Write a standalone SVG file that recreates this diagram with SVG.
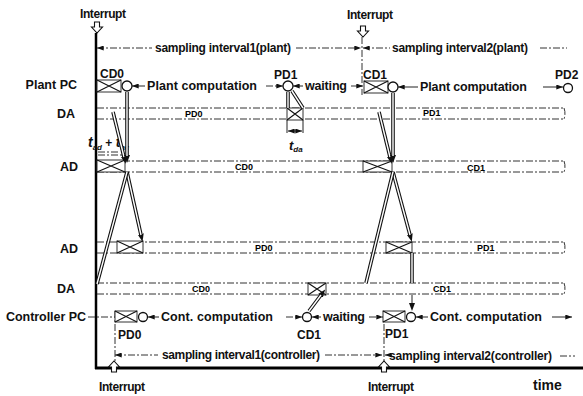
<svg xmlns="http://www.w3.org/2000/svg" width="583" height="396" viewBox="0 0 583 396">
<style>
text{font-family:"Liberation Sans",Arial,sans-serif;font-weight:bold;fill:#111}
.t{font-size:12px}
.lb{font-size:12.5px}
.sm{font-size:9px;fill:#000}
.ds{stroke:#333;stroke-width:1;stroke-dasharray:7 2 2 2;fill:none}
.dl{stroke:#222;stroke-width:1;fill:none}
.bx{fill:#fff;stroke:#333;stroke-width:1}
.cx{stroke:#111;stroke-width:1.1;fill:none}
.ci{fill:#fff;stroke:#111;stroke-width:1.3}
.ax{stroke:#000;fill:none}
.dbo{stroke:#111;stroke-width:3.6;fill:none}
.dbi{stroke:#fff;stroke-width:1.4;fill:none}
.hi{fill:#fff;stroke:#111;stroke-width:1.1}
</style>
<defs>
<marker id="a" viewBox="0 0 8 6" refX="8" refY="3" markerWidth="7" markerHeight="5" orient="auto-start-reverse" markerUnits="userSpaceOnUse"><path d="M0,0L8,3L0,6z" fill="#111"/></marker>
<marker id="b" viewBox="0 0 8 6" refX="1" refY="3" markerWidth="8" markerHeight="7" orient="auto" markerUnits="userSpaceOnUse"><path d="M0,0L8,3L0,6z" fill="#111"/></marker>
<path id="hd" d="M-2.5,0h5v5h3l-5.5,6l-5.5,-6h3z"/>
<path id="c1" d="M113,112L124,157"/>
<path id="c2" d="M127,92V156"/>
<path id="c3" d="M127,172L141,235"/>
<path id="c4" d="M127,172L97,284"/>
<path id="c5" d="M288,92V108"/>
<path id="c6" d="M292,91L303,108"/>
<path id="r1" d="M379,112L390,157"/>
<path id="r2" d="M393,93V156"/>
<path id="r3" d="M393,172L410,235"/>
<path id="r4" d="M393,172L366,283"/>
<path id="r5" d="M412,253V283"/>
<path id="k1" d="M309,311L321,295"/>
</defs>

<g id="axes">
<path class="ax" stroke-width="2.5" d="M96,33V369"/>
<path class="ax" stroke-width="3" d="M95,368H583"/>
<text x="533" y="390" font-size="14">time</text>
</g>

<g id="interrupts">
<text class="t" x="80" y="18" textLength="46">Interrupt</text>
<use href="#hd" class="hi" transform="translate(97,22)"/>
<text class="t" x="347" y="19" textLength="46">Interrupt</text>
<use href="#hd" class="hi" transform="translate(363,26)"/>
<path class="ds" d="M362,37V95"/>
<text class="t" x="99" y="391" textLength="46">Interrupt</text>
<use href="#hd" class="hi" transform="translate(114,372) scale(1,-1)"/>
<text class="t" x="368" y="391" textLength="46">Interrupt</text>
<use href="#hd" class="hi" transform="translate(384,372) scale(1,-1)"/>
<path class="ds" d="M115,311V362"/>
<path class="ds" d="M384,311V362"/>
</g>

<g id="row-labels">
<text class="lb" x="77" y="89" text-anchor="end">Plant PC</text>
<text class="lb" x="75" y="118" text-anchor="end">DA</text>
<text class="lb" x="78" y="171" text-anchor="end">AD</text>
<text class="lb" x="78" y="253" text-anchor="end">AD</text>
<text class="lb" x="75" y="293" text-anchor="end">DA</text>
<text class="lb" x="86" y="321" text-anchor="end" textLength="80">Controller PC</text>
<path class="ds" d="M88,317H115"/>
</g>

<g id="bands">
<path class="ds" d="M97,108H564M97,119H564M564,108q2,5.5 0,11"/>
<text class="sm" x="185" y="117">PD0</text>
<text class="sm" x="423" y="116">PD1</text>
<path class="ds" d="M97,161H564M97,172H564M564,161q2,5.5 0,11"/>
<text class="sm" x="235" y="170">CD0</text>
<text class="sm" x="467" y="171">CD1</text>
<path class="ds" d="M97,242H564M97,253H564M564,242q2,5.5 0,11"/>
<text class="sm" x="255" y="251">PD0</text>
<text class="sm" x="477" y="251">PD1</text>
<path class="ds" d="M97,283H564M97,294H564M564,283q2,5.5 0,11"/>
<text class="sm" x="192" y="292">CD0</text>
<text class="sm" x="433" y="292">CD1</text>
</g>

<g id="plant-cd0">
<text class="t" x="100" y="78">CD0</text>
<rect class="bx" x="97" y="80" width="24" height="12"/>
<path class="cx" d="M97,80L121,92M97,92L121,80"/>
<circle class="ci" cx="127" cy="86" r="5"/>
</g>
<g id="plant-pd1">
<text class="t" x="274" y="79">PD1</text>
<circle class="ci" cx="288" cy="86" r="5"/>
</g>
<g id="plant-cd1">
<text class="t" x="363" y="79">CD1</text>
<rect class="bx" x="364" y="81" width="24" height="12"/>
<path class="cx" d="M364,81L388,93M364,93L388,81"/>
<circle class="ci" cx="393" cy="87" r="5"/>
</g>
<g id="plant-pd2">
<text class="t" x="555" y="79">PD2</text>
<circle class="ci" cx="568" cy="88" r="4.5"/>
</g>

<g id="da-pd1">
<rect class="bx" x="287" y="108" width="16" height="12"/>
<path class="cx" d="M287,108L303,120M287,120L303,108"/>
<path class="dl" d="M287,120V133M303,120V133"/>
<path class="dl" d="M288,131H302" marker-start="url(#a)" marker-end="url(#a)"/>
<text x="289" y="150" font-size="13" font-style="italic">t<tspan font-size="8" dy="2">da</tspan></text>
</g>

<g id="ad-cd0">
<rect class="bx" x="97" y="160" width="28" height="12"/>
<path class="cx" d="M97,160L125,172M97,172L125,160"/>
<path class="ds" d="M98,152H120M98,155H125"/>
<text x="88" y="147" font-size="14" font-style="italic">t<tspan font-size="8" dy="3">ad</tspan><tspan font-size="12" font-style="normal" dy="-3"> + </tspan>t<tspan font-size="8" dy="3">ac</tspan></text>
</g>
<g id="ad-cd1">
<rect class="bx" x="363" y="161" width="29" height="11"/>
<path class="cx" d="M363,161L392,172M363,172L392,161"/>
</g>
<g id="ad-pd0">
<rect class="bx" x="117" y="241" width="26" height="12"/>
<path class="cx" d="M117,241L143,253M117,253L143,241"/>
</g>
<g id="ad-pd1">
<rect class="bx" x="386" y="242" width="26" height="11" stroke-width="1.5"/>
<path class="cx" d="M386,242L412,253M386,253L412,242"/>
</g>
<g id="da-cd1">
<rect class="bx" x="308" y="283" width="18" height="12"/>
<path class="cx" d="M308,283L326,295M308,295L326,283"/>
</g>

<g id="ctrl-pd0">
<rect class="bx" x="115" y="311" width="22" height="11"/>
<path class="cx" d="M115,311L137,322M115,322L137,311"/>
<circle class="ci" cx="143" cy="317" r="4.5"/>
<text class="t" x="118" y="339">PD0</text>
</g>
<g id="ctrl-cd1">
<circle class="ci" cx="307" cy="317" r="4.5"/>
<text class="t" x="297" y="339">CD1</text>
</g>
<g id="ctrl-pd1">
<rect class="bx" x="383" y="311" width="22" height="11"/>
<path class="cx" d="M383,311L405,322M383,322L405,311"/>
<circle class="ci" cx="411" cy="317" r="4.5"/>
<text class="t" x="385" y="338">PD1</text>
</g>

<g id="durations">
<path class="ds" d="M97,48H152" marker-start="url(#a)"/>
<text class="t" x="155" y="52" textLength="136">sampling interval1(plant)</text>
<path class="ds" d="M296,48H361" marker-end="url(#a)"/>
<path class="ds" d="M363,48H390" marker-start="url(#a)"/>
<text class="t" x="392" y="52" textLength="136">sampling interval2(plant)</text>
<path class="ds" d="M540,48H567"/>

<path class="dl" d="M132,86H145" marker-start="url(#a)"/>
<text class="lb" x="147" y="90" textLength="110">Plant computation</text>
<path class="ds" d="M266,86H283" marker-end="url(#a)"/>
<path class="dl" d="M293,86H303" marker-start="url(#a)"/>
<text class="lb" x="305" y="90" textLength="42">waiting</text>
<path class="ds" d="M351,86H363" marker-end="url(#a)"/>
<path class="dl" d="M398,87H418" marker-start="url(#a)"/>
<text class="lb" x="420" y="91" textLength="107">Plant computation</text>
<path class="dl" d="M543,87H563" marker-end="url(#a)"/>

<path class="dl" d="M148,317H159" marker-start="url(#a)"/>
<text class="lb" x="161" y="321" textLength="112">Cont. computation</text>
<path class="ds" d="M286,317H302" marker-end="url(#a)"/>
<path class="dl" d="M312,317H321" marker-start="url(#a)"/>
<text class="lb" x="323" y="321" textLength="42">waiting</text>
<path class="ds" d="M369,317H383" marker-end="url(#a)"/>
<path class="dl" d="M416,317H428" marker-start="url(#a)"/>
<text class="lb" x="430" y="321" textLength="112">Cont. computation</text>
<path class="dl" d="M552,317H572" marker-end="url(#a)"/>

<path class="ds" d="M115,355H158" marker-start="url(#a)"/>
<text class="t" x="162" y="359" textLength="158">sampling interval1(controller)</text>
<path class="ds" d="M325,355H382" marker-end="url(#a)"/>
<path class="dl" d="M385,355H388" marker-start="url(#a)"/>
<text class="t" x="389" y="360" textLength="163">sampling interval2(controller)</text>
<path class="ds" d="M560,356H575"/>
</g>

<g id="connectors">
<use href="#c1" class="dbo" marker-end="url(#b)"/><use href="#c1" class="dbi"/>
<use href="#c2" class="dbo" marker-end="url(#b)"/><use href="#c2" class="dbi"/>
<use href="#c3" class="dbo" marker-end="url(#b)"/><use href="#c3" class="dbi"/>
<use href="#c4" class="dbo"/><use href="#c4" class="dbi"/>
<use href="#c5" class="dbo"/><use href="#c5" class="dbi"/>
<use href="#c6" class="dbo"/><use href="#c6" class="dbi"/>
<use href="#r1" class="dbo" marker-end="url(#b)"/><use href="#r1" class="dbi"/>
<use href="#r2" class="dbo" marker-end="url(#b)"/><use href="#r2" class="dbi"/>
<use href="#r3" class="dbo" marker-end="url(#b)"/><use href="#r3" class="dbi"/>
<use href="#r4" class="dbo"/><use href="#r4" class="dbi"/>
<use href="#r5" class="dbo"/><use href="#r5" class="dbi"/>
<use href="#k1" class="dbo" marker-end="url(#b)"/><use href="#k1" class="dbi"/>
<path class="dl" stroke-width="1.3" d="M412,295V304" marker-end="url(#b)"/>
</g>
</svg>
